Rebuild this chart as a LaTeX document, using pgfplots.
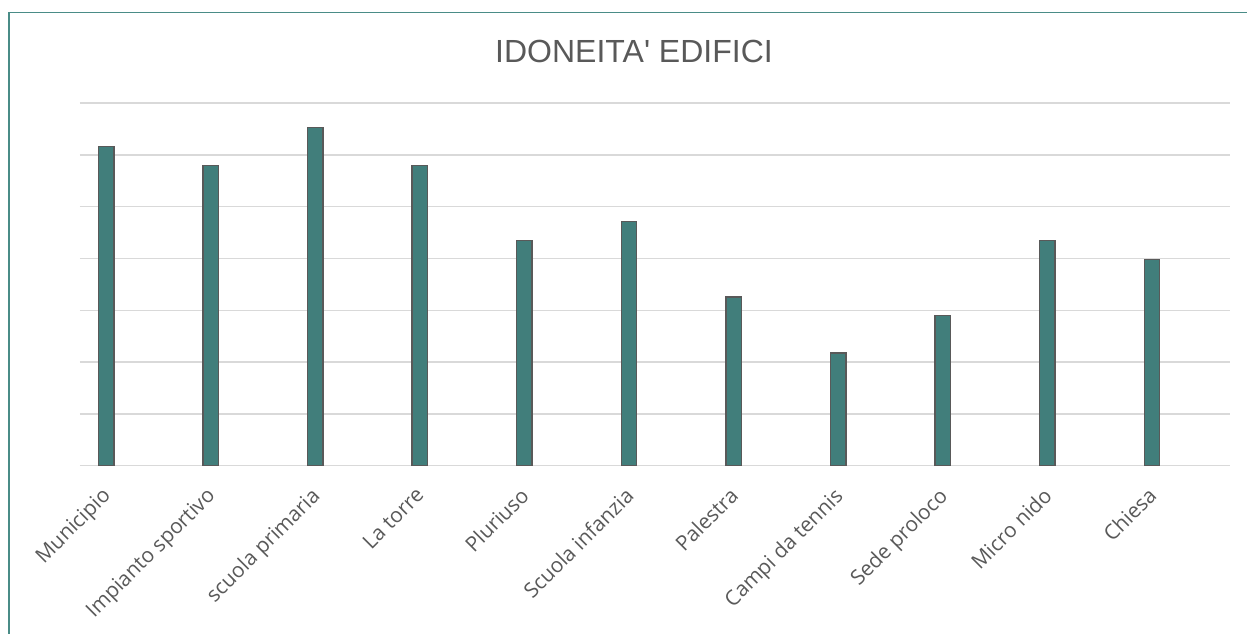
\documentclass[border=0pt]{standalone}
\usepackage{pgfplots}
\pgfplotsset{compat=1.18}
\usepackage{fontspec}
\setmainfont{Open Sans}
\newfontfamily\titlefont{Liberation Sans}
\definecolor{barfill}{HTML}{417E7B}
\definecolor{barline}{HTML}{595959}
\definecolor{gridc}{HTML}{D9D9D9}
\definecolor{txt}{HTML}{595959}
\definecolor{frame}{HTML}{4A8C87}
\begin{document}
\begin{tikzpicture}
\useasboundingbox (0pt,0pt) rectangle (935.25pt,-474.75pt);
\draw[frame, line width=1.1pt] (6.75pt,-490pt) -- (6.75pt,-9.4pt) -- (940pt,-9.4pt);
\node[text=txt, font=\titlefont\fontsize{24}{28}\selectfont] at (475.5pt,-38.25pt) {IDONEITA' EDIFICI};
\begin{axis}[
  at={(60pt,-349.3pt)}, anchor=south west,
  scale only axis, width=862.5pt, height=272pt,
  xmin=-0.249, xmax=10.746, ymin=0, ymax=7,
  axis line style={draw=none},
  ytick={0,1,...,7}, yticklabels={},
  ymajorgrids, grid style={gridc, line width=1.1pt},
  major tick length=0pt,
  xtick={0,...,10},
  xticklabels={Municipio, Impianto sportivo, scuola primaria, La torre, Pluriuso, Scuola infanzia, Palestra, Campi da tennis, Sede proloco, Micro nido, Chiesa},
  xticklabel shift=15pt,
  xticklabel style={xshift=-4pt, rotate=45, anchor=north east, inner sep=0pt, text=txt, font=\fontsize{15.6}{18}\selectfont},
  clip=false,
]
\addplot[ybar, bar width=11.6pt, fill=barfill, draw=barline, line width=1.1pt] coordinates {
(0,6.16) (1,5.80) (2,6.53) (3,5.80) (4,4.35) (5,4.71) (6,3.26) (7,2.18) (8,2.90) (9,4.35) (10,3.98)
};
\end{axis}
\end{tikzpicture}
\end{document}
